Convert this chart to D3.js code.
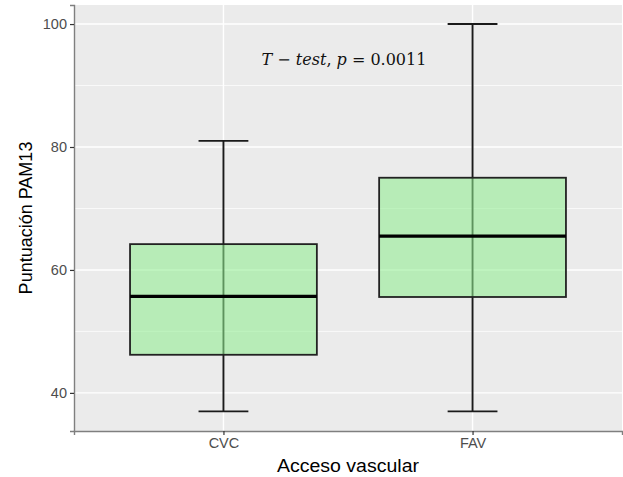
<!DOCTYPE html>
<html>
  <head>
    <meta charset="UTF-8" />
    <style>
      body { margin: 0; background: #fff; }
      text { font-family: "Liberation Sans", Arial, sans-serif; }
    </style>
  </head>
  <body>
    <script src="https://cdn.jsdelivr.net/npm/d3@7"></script>
    <script>
      // box stats
      var groups = ["CVC", "FAV"];
      var lowWhisker = [37, 37];
      var q1 = [46.2, 55.6];
      var median = [55.7, 65.5];
      var q3 = [64.2, 75.0];
      var highWhisker = [81, 100];
      var yTicks = [40, 60, 80, 100];
      var yMinor = [50, 70, 90];

      var width = 623, height = 477;
      var margin = { left: 74, right: 1, top: 5, bottom: 46 };

      var svg = d3.select("body").append("svg")
        .attr("width", width)
        .attr("height", height);

      var x = d3.scaleLinear()
        .domain([0.4, 2.6])
        .range([margin.left, width - margin.right]);
      var y = d3.scaleLinear()
        .domain([33.8, 103.1])
        .range([height - margin.bottom, margin.top]);

      // panel background
      svg.append("rect")
        .attr("x", margin.left)
        .attr("y", margin.top)
        .attr("width", width - margin.right - margin.left)
        .attr("height", height - margin.bottom - margin.top)
        .attr("fill", "#ebebeb");

      // grid
      svg.selectAll("line.minor").data(yMinor).enter().append("line")
        .attr("x1", margin.left).attr("x2", width - margin.right)
        .attr("y1", function(d) { return y(d); })
        .attr("y2", function(d) { return y(d); })
        .attr("stroke", "#fff").attr("stroke-width", 0.7);
      svg.selectAll("line.major").data(yTicks).enter().append("line")
        .attr("x1", margin.left).attr("x2", width - margin.right)
        .attr("y1", function(d) { return y(d); })
        .attr("y2", function(d) { return y(d); })
        .attr("stroke", "#fff").attr("stroke-width", 1.4);
      svg.selectAll("line.vmajor").data(groups).enter().append("line")
        .attr("x1", function(d, i) { return x(i + 1); })
        .attr("x2", function(d, i) { return x(i + 1); })
        .attr("y1", margin.top).attr("y2", height - margin.bottom)
        .attr("stroke", "#fff").attr("stroke-width", 1.4);

      var unit = x(2) - x(1);
      var boxW = unit * 0.75, capW = unit * 0.2;

      var g = svg.selectAll("g.box").data(groups).enter().append("g");

      // whiskers + caps
      g.append("line")
        .attr("x1", function(d, i) { return x(i + 1); })
        .attr("x2", function(d, i) { return x(i + 1); })
        .attr("y1", function(d, i) { return y(lowWhisker[i]); })
        .attr("y2", function(d, i) { return y(highWhisker[i]); })
        .attr("stroke", "#1a1a1a").attr("stroke-width", 1.9);
      [lowWhisker, highWhisker].forEach(function(arr) {
        g.append("line")
          .attr("x1", function(d, i) { return x(i + 1) - capW / 2; })
          .attr("x2", function(d, i) { return x(i + 1) + capW / 2; })
          .attr("y1", function(d, i) { return y(arr[i]); })
          .attr("y2", function(d, i) { return y(arr[i]); })
          .attr("stroke", "#1a1a1a").attr("stroke-width", 1.9);
      });

      // box
      g.append("rect")
        .attr("x", function(d, i) { return x(i + 1) - boxW / 2; })
        .attr("y", function(d, i) { return y(q3[i]); })
        .attr("width", boxW)
        .attr("height", function(d, i) { return y(q1[i]) - y(q3[i]); })
        .attr("fill", "#90ee90").attr("fill-opacity", 0.57)
        .attr("stroke", "#222").attr("stroke-width", 1.8);
      g.append("line")
        .attr("x1", function(d, i) { return x(i + 1) - boxW / 2; })
        .attr("x2", function(d, i) { return x(i + 1) + boxW / 2; })
        .attr("y1", function(d, i) { return y(median[i]); })
        .attr("y2", function(d, i) { return y(median[i]); })
        .attr("stroke", "#000").attr("stroke-width", 3.2);

      // axes
      var yAxis = svg.append("g")
        .attr("transform", "translate(" + margin.left + ",0)")
        .call(d3.axisLeft(y).tickValues(yTicks).tickSize(4).tickPadding(3));
      var xAxis = svg.append("g")
        .attr("transform", "translate(0," + (height - margin.bottom) + ")")
        .call(d3.axisBottom(x).tickValues([1, 2]).tickSize(4).tickPadding(3)
          .tickFormat(function(d) { return groups[d - 1]; }));
      [xAxis, yAxis].forEach(function(a) {
        a.select(".domain").attr("stroke", "#7f7f7f").attr("stroke-width", 1.4);
        a.selectAll(".tick line").attr("stroke", "#333").attr("stroke-width", 1.2);
        a.selectAll(".tick text").attr("fill", "#4d4d4d")
          .style("font-size", "14.5px").style("font-family", "Liberation Sans, Arial, sans-serif");
      });

      // titles
      svg.append("text")
        .attr("x", x(1.5)).attr("y", 472)
        .attr("text-anchor", "middle")
        .attr("textLength", 142).attr("lengthAdjust", "spacingAndGlyphs")
        .style("font-size", "17.5px").attr("fill", "#000")
        .text("Acceso vascular");
      svg.append("text")
        .attr("transform", "translate(32," + ((margin.top + height - margin.bottom) / 2) + ") rotate(-90)")
        .attr("text-anchor", "middle")
        .style("font-size", "18px").attr("fill", "#000")
        .text("Puntuación PAM13");

      // annotation
      var ann = svg.append("text")
        .attr("x", 344).attr("y", 65)
        .attr("text-anchor", "middle")
        .style("font-family", "DejaVu Serif, serif")
        .style("font-size", "16px").attr("fill", "#111");
      ann.append("tspan").style("font-style", "italic").text("T");
      ann.append("tspan").text(" \u2212 ");
      ann.append("tspan").style("font-style", "italic").text("test");
      ann.append("tspan").text(", ");
      ann.append("tspan").style("font-style", "italic").text("p");
      ann.append("tspan").text(" = 0.0011");
    </script>
  </body>
</html>
